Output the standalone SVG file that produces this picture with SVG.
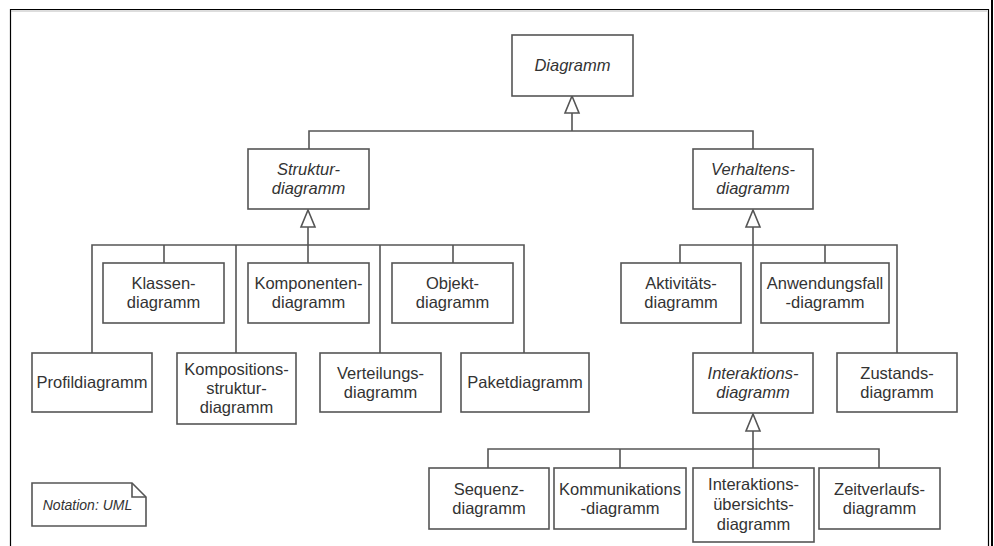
<svg xmlns="http://www.w3.org/2000/svg" width="994" height="546" viewBox="0 0 994 546">
<style>
.box{fill:#fff;stroke:#555;stroke-width:1.6}
.ln{fill:none;stroke:#555;stroke-width:1.6}
.tri{fill:#fff;stroke:#555;stroke-width:1.6;stroke-linejoin:miter}
text{font-family:"Liberation Sans",Arial,sans-serif;font-size:16.5px;fill:#333;text-anchor:middle}
.it{font-style:italic}
.frame{fill:none;stroke:#000}
</style>
<rect width="994" height="546" fill="#fff"/>
<g id="frame">
<path class="frame" d="M10.5,546 V9.5 H988.5 V546" stroke-width="1.2"/>
<path d="M11,11 H987" stroke="#bbb" stroke-width="1" fill="none"/>
<path class="frame" d="M992,0 V546" stroke-width="2"/>
</g>
<g id="connectors">
<path class="ln" d="M572,113 V131 M309,149 V131 H753 V149"/>
<path class="ln" d="M92,353 V245 H524 V353 M164,245 V263 M236,245 V353 M308,227 V263 M380,245 V353 M453,245 V263"/>
<path class="ln" d="M680,263 V245 H897 V353 M753,227 V353 M825,245 V263"/>
<path class="ln" d="M488,468 V449 H879 V468 M620,449 V468 M753,431 V468"/>
<polygon class="tri" points="572,96 565,113 579,113"/>
<polygon class="tri" points="308,210 301,227 315,227"/>
<polygon class="tri" points="753,210 746,227 760,227"/>
<polygon class="tri" points="753,414 746,431 760,431"/>
</g>
<g id="diagramm"><rect class="box" x="512" y="35" width="121" height="61"/><text class="it" x="572.5" y="71">Diagramm</text></g>
<g id="struktur"><rect class="box" x="248" y="149" width="121" height="60"/><text class="it" x="308.5" y="175">Struktur-</text><text class="it" x="308.5" y="194">diagramm</text></g>
<g id="verhaltens"><rect class="box" x="693" y="149" width="120" height="60"/><text class="it" x="753" y="175">Verhaltens-</text><text class="it" x="753" y="194">diagramm</text></g>
<g id="klassen"><rect class="box" x="103" y="263" width="121" height="60"/><text x="163.5" y="289">Klassen-</text><text x="163.5" y="308">diagramm</text></g>
<g id="komponenten"><rect class="box" x="248" y="263" width="121" height="60"/><text x="308.5" y="289">Komponenten-</text><text x="308.5" y="308">diagramm</text></g>
<g id="objekt"><rect class="box" x="392" y="263" width="121" height="60"/><text x="452.5" y="289">Objekt-</text><text x="452.5" y="308">diagramm</text></g>
<g id="profil"><rect class="box" x="32" y="353" width="120" height="59"/><text x="92" y="388">Profildiagramm</text></g>
<g id="kompositions"><rect class="box" x="177" y="353" width="119" height="71"/><text x="236.5" y="375">Kompositions-</text><text x="236.5" y="394">struktur-</text><text x="236.5" y="413">diagramm</text></g>
<g id="verteilungs"><rect class="box" x="320" y="353" width="121" height="59"/><text x="380.5" y="379">Verteilungs-</text><text x="380.5" y="398">diagramm</text></g>
<g id="paket"><rect class="box" x="461" y="353" width="128" height="59"/><text x="525" y="388">Paketdiagramm</text></g>
<g id="aktivitaets"><rect class="box" x="621" y="263" width="120" height="60"/><text x="681" y="289">Aktivitäts-</text><text x="681" y="308">diagramm</text></g>
<g id="anwendungsfall"><rect class="box" x="761" y="263" width="128" height="60"/><text x="825" y="289">Anwendungsfall</text><text x="825" y="308">-diagramm</text></g>
<g id="interaktions"><rect class="box" x="693" y="353" width="120" height="60"/><text class="it" x="753" y="379">Interaktions-</text><text class="it" x="753" y="398">diagramm</text></g>
<g id="zustands"><rect class="box" x="837" y="353" width="120" height="59"/><text x="897" y="379">Zustands-</text><text x="897" y="398">diagramm</text></g>
<g id="sequenz"><rect class="box" x="429" y="468" width="120" height="61"/><text x="489" y="495">Sequenz-</text><text x="489" y="514">diagramm</text></g>
<g id="kommunikations"><rect class="box" x="554" y="468" width="132" height="61"/><text x="620" y="495">Kommunikations</text><text x="620" y="514">-diagramm</text></g>
<g id="interaktionsuebersicht"><rect class="box" x="693" y="468" width="121" height="74"/><text x="753.5" y="490">Interaktions-</text><text x="753.5" y="510">übersichts-</text><text x="753.5" y="530">diagramm</text></g>
<g id="zeitverlaufs"><rect class="box" x="819" y="468" width="121" height="61"/><text x="879.5" y="495">Zeitverlaufs-</text><text x="879.5" y="514">diagramm</text></g>
<g id="note"><path class="box" d="M32,483 H132 L146,497 V526 H32 Z"/><path class="ln" d="M132,483 V497 H146"/><text class="it" x="87.5" y="510" style="font-size:14px">Notation: UML</text></g>
</svg>
